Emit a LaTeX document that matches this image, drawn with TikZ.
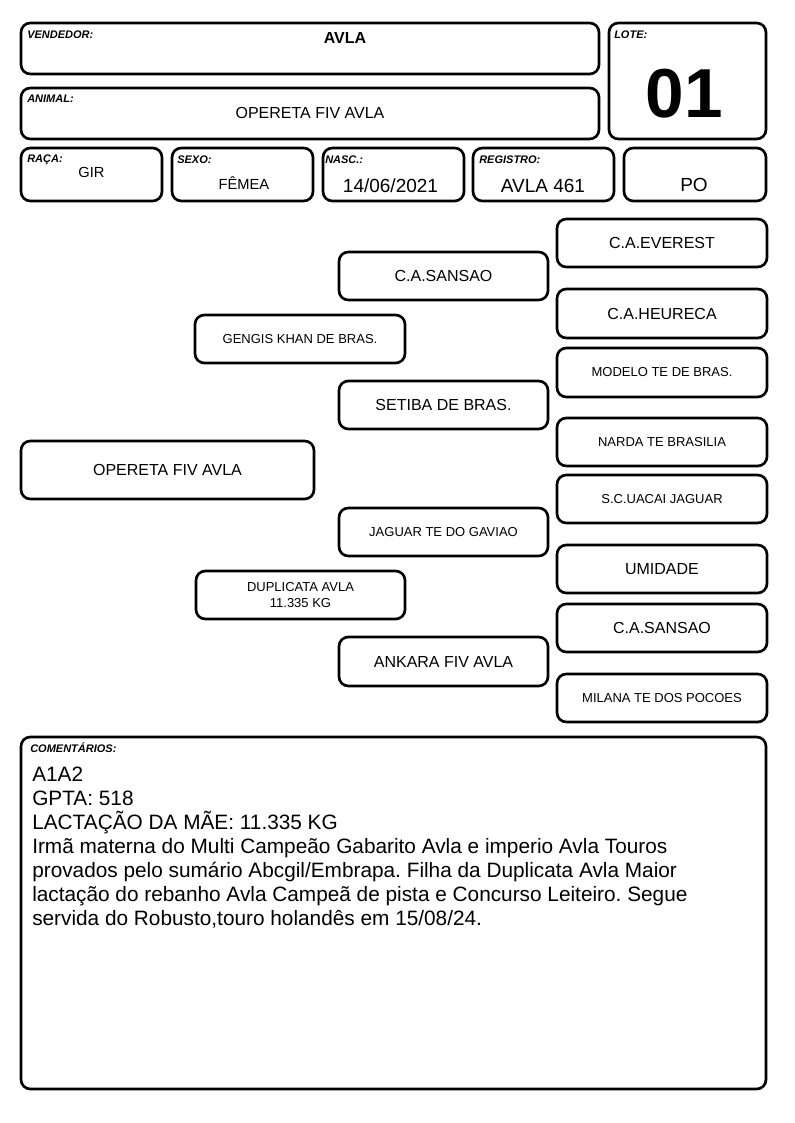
\documentclass[tikz,border=0pt]{standalone}
\usepackage{fontspec}
\setmainfont{Liberation Sans}
\frenchspacing
\newcommand\bx[7]{\node[box,#6,minimum width={(#4-#2)*0.75pt},minimum height={(#5-#3)*0.75pt}] (#1) at ({(#2+#4)/2},{(#3+#5)/2}) {#7};}
\begin{document}
\begin{tikzpicture}[x=0.75pt,y=-0.75pt,
  box/.style={draw, line width=2pt, rounded corners=7pt, inner sep=0pt, outer sep=0pt, align=center},
  lbl/.style={font=\fontsize{8.25pt}{10pt}\selectfont\bfseries\itshape, inner sep=0pt, anchor=base west},
  big/.style={font=\fontsize{12pt}{14pt}\selectfont},
  small/.style={font=\fontsize{9.75pt}{12pt}\selectfont},
  val/.style={inner sep=0pt, anchor=base},
  mid/.style={font=\fontsize{11pt}{13pt}\selectfont},
  large/.style={font=\fontsize{14.25pt}{16pt}\selectfont}]
\useasboundingbox (0,0) rectangle (794,1123);
% header boxes
\bx{vend}{21}{23}{599}{74}{}{}
\bx{anim}{21}{88}{599}{139}{}{}
\bx{lote}{609}{23}{766}{139}{}{}
\bx{raca}{21}{148}{162}{201}{}{}
\bx{sexo}{172}{148}{313}{201}{}{}
\bx{nasc}{323}{148}{464}{201}{}{}
\bx{regi}{473}{148}{614}{201}{}{}
\bx{cat}{624}{148}{766}{201}{}{}
% labels
\node[lbl] (lvend) at (27,39) {VENDEDOR:};
\node[lbl] (lanim) at (27,103) {ANIMAL:};
\node[lbl] (llote) at (614,39) {LOTE:};
\node[lbl] (lraca) at (27,163) {RAÇA:};
\node[lbl] (lsexo) at (177,164) {SEXO:};
\node[lbl] (lnasc) at (325,164) {NASC.:};
\node[lbl] (lregi) at (479,164) {REGISTRO:};
% values
\node[val, font=\fontsize{12pt}{14pt}\selectfont\bfseries] (vvend) at (345,43.5) {AVLA};
\node[val, big] (vanim) at (310,119) {OPERETA FIV AVLA};
\node[val, font=\fontsize{52pt}{56pt}\selectfont\bfseries] (vlote) at (684,118) {01};
\node[val, mid] (vraca) at (91.5,178) {GIR};
\node[val, mid] (vsexo) at (243.8,190) {FÊMEA};
\node[val, large] (vnasc) at (390.5,193) {14/06/2021};
\node[val, large] (vregi) at (543,193) {AVLA 461};
\node[val, large] (vcat) at (694,192) {PO};
% pedigree
\bx{ev}{557}{219}{767}{267}{big}{C.A.EVEREST}
\bx{sa1}{339}{252}{548}{300}{big}{C.A.SANSAO}
\bx{he}{557}{289}{767}{338}{big}{C.A.HEURECA}
\bx{ge}{195}{315}{405}{363}{small}{GENGIS KHAN DE BRAS.}
\bx{mo}{557}{348}{767}{397}{small}{MODELO TE DE BRAS.}
\bx{se}{339}{381}{548}{429}{big}{SETIBA DE BRAS.}
\bx{na}{557}{418}{767}{466}{small}{NARDA TE BRASILIA}
\bx{op}{21}{441}{314}{499}{big}{OPERETA FIV AVLA}
\bx{sc}{557}{475}{767}{523}{small}{S.C.UACAI JAGUAR}
\bx{ja}{339}{508}{548}{556}{small}{JAGUAR TE DO GAVIAO}
\bx{um}{557}{545}{767}{593}{big}{UMIDADE}
\bx{du}{196}{571}{405}{619}{small}{DUPLICATA AVLA\\11.335 KG}
\bx{sa2}{557}{604}{767}{652}{big}{C.A.SANSAO}
\bx{an}{339}{637}{548}{686}{big}{ANKARA FIV AVLA}
\bx{mi}{557}{674}{767}{722}{small}{MILANA TE DOS POCOES}
% comments
\bx{com}{21}{737}{766}{1089}{}{}
\node[lbl] (lcom) at (30,752) {COMENTÁRIOS:};
\node[inner sep=0pt, anchor=base west, font=\fontsize{15.6pt}{18pt}\selectfont] (tcom) at (32,781.7)
  {\parbox[t]{560pt}{\raggedright A1A2\\
  GPTA: 518\\
  LACTAÇÃO DA MÃE: 11.335 KG\\
  Irmã materna do Multi Campeão Gabarito Avla e imperio Avla Touros\\
  provados pelo sumário Abcgil/Embrapa. Filha da Duplicata Avla Maior\\
  lactação do rebanho Avla Campeã de pista e Concurso Leiteiro. Segue\\
  servida do Robusto,touro holandês em 15/08/24.}};
\end{tikzpicture}
\end{document}
